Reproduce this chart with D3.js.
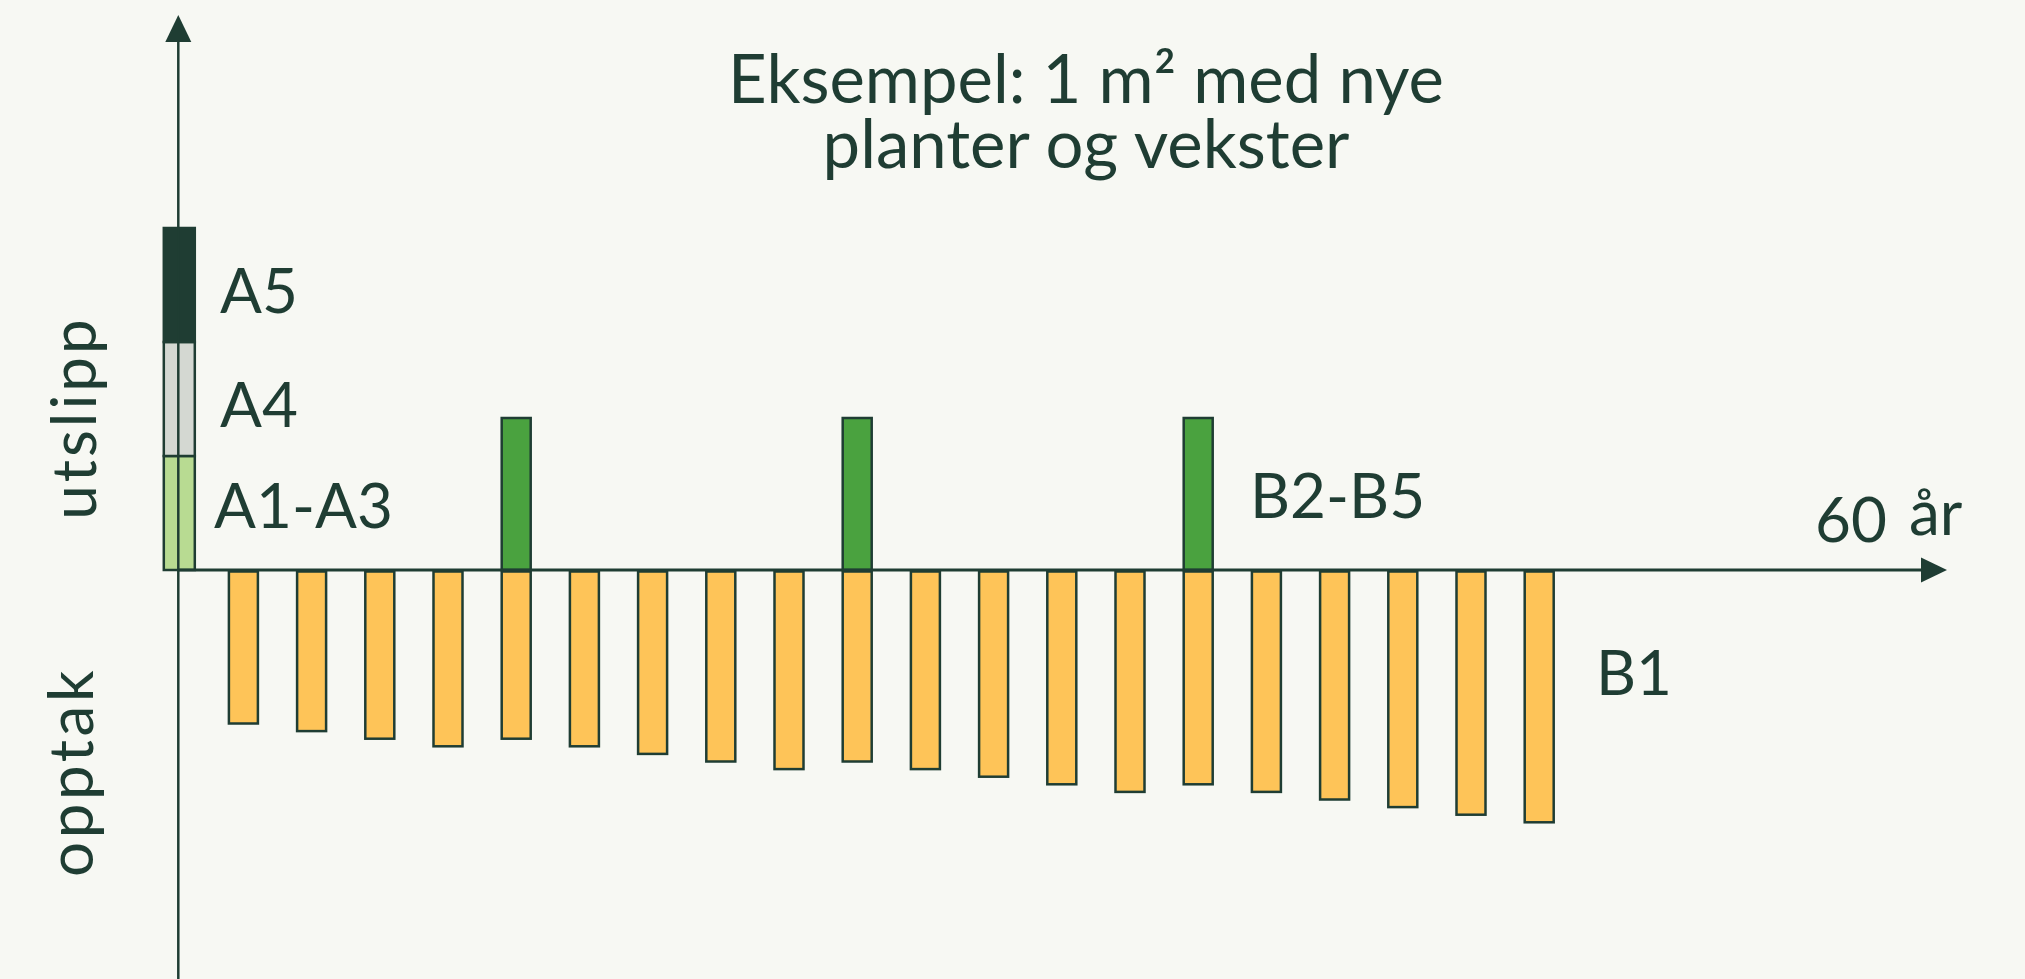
<!DOCTYPE html>
<html>
<head>
<meta charset="utf-8">
<script src="https://cdn.jsdelivr.net/npm/d3@7"></script>
<style>
  body { margin: 0; background: #f7f8f3; }
  svg { display: block; }
  text { font-family: Lato, "Noto Sans", sans-serif; fill: #1f3d33; }
</style>
</head>
<body>
<div id="chart"></div>
<script>
// the start bar at year 0, stacked
let startParts = ["A1-A3", "A4", "A5"];
let startValues = [15, 15, 15];
let startColors = ["#b8db92", "#d4d8d2", "#1f3d33"];

// 20 periods of 3 years, uptake is negative
let periods = d3.range(1, 21);
let uptake = [-20, -21, -22, -23, -22, -23, -24, -25, -26, -25,
              -26, -27, -28, -29, -28, -29, -30, -31, -32, -33];
// replacement of plants every 5 periods
let replacePeriods = [5, 10, 15];
let replaceValues = [20, 20, 20];

let titleLines = ["Eksempel: 1 m² med nye", "planter og vekster"];

let width = 2025, height = 979;
let ink = "#1f3d33";

let svg = d3.select("#chart").append("svg")
    .attr("width", width)
    .attr("height", height);

// scales
let xScale = d3.scaleLinear()
    .domain([1, 20])
    .range([243.4, 1539.2]);
let yScale = d3.scaleLinear()
    .domain([0, 45])
    .range([570, 228]);
let axisX = 178.3;
let barW = 29;
let gap = 1.5;

// stacked start bar
let stack = [];
let acc = 0;
for (let i = 0; i < startValues.length; i++) {
    stack.push({name: startParts[i], y0: acc, y1: acc + startValues[i], color: startColors[i]});
    acc += startValues[i];
}
svg.append("g").selectAll("rect")
    .data(stack)
    .enter()
    .append("rect")
    .attr("x", axisX + 1 - 15.5)
    .attr("y", d => yScale(d.y1))
    .attr("width", 31)
    .attr("height", d => yScale(d.y0) - yScale(d.y1))
    .style("fill", d => d.color)
    .style("stroke", ink)
    .style("stroke-width", 2.5);

// uptake bars
svg.append("g").selectAll("rect")
    .data(periods)
    .enter()
    .append("rect")
    .attr("x", d => xScale(d) - barW / 2)
    .attr("y", yScale(0) + gap)
    .attr("width", barW)
    .attr("height", (d, i) => yScale(uptake[i]) - yScale(0))
    .style("fill", "#fec458")
    .style("stroke", ink)
    .style("stroke-width", 2.5);

// replacement bars
svg.append("g").selectAll("rect")
    .data(replacePeriods)
    .enter()
    .append("rect")
    .attr("x", d => xScale(d) - barW / 2)
    .attr("y", (d, i) => yScale(replaceValues[i]))
    .attr("width", barW)
    .attr("height", (d, i) => yScale(0) - yScale(replaceValues[i]))
    .style("fill", "#4aa23f")
    .style("stroke", ink)
    .style("stroke-width", 2.5);

// axes with arrows
svg.append("line")
    .attr("x1", axisX).attr("x2", 1925)
    .attr("y1", yScale(0)).attr("y2", yScale(0))
    .style("stroke", ink).style("stroke-width", 2.8);
svg.append("path")
    .attr("d", "M1921," + (yScale(0) - 12.5) + "L1947," + yScale(0) + "L1921," + (yScale(0) + 12.5) + "Z")
    .style("fill", ink);
svg.append("line")
    .attr("x1", axisX).attr("x2", axisX)
    .attr("y1", 38).attr("y2", height)
    .style("stroke", ink).style("stroke-width", 2.5);
svg.append("path")
    .attr("d", "M" + (axisX - 13) + ",42L" + axisX + ",15L" + (axisX + 13) + ",42Z")
    .style("fill", ink);

// labels for the stack
let labelSize = 62;
let stackLabelX = [214, 220, 220];
let stackLabelY = [528, 427, 313];
svg.append("g").selectAll("text")
    .data(stack)
    .enter()
    .append("text")
    .attr("x", (d, i) => stackLabelX[i])
    .attr("y", (d, i) => stackLabelY[i])
    .style("font-size", labelSize + "px")
    .text(d => d.name);

svg.append("text")
    .attr("x", 1250).attr("y", 518)
    .style("font-size", labelSize + "px")
    .text("B2-B5");
svg.append("text")
    .attr("x", 1596).attr("y", 695)
    .style("font-size", labelSize + "px")
    .text("B1");
svg.append("text")
    .attr("x", 1815).attr("y", 541.5)
    .style("font-size", labelSize + "px")
    .text("60");
svg.append("text")
    .attr("x", 1909).attr("y", 535)
    .style("font-size", labelSize + "px")
    .text("år");

// vertical axis words
svg.append("text")
    .attr("transform", "translate(96,418) rotate(-90)")
    .attr("text-anchor", "middle")
    .style("font-size", labelSize + "px")
    .style("letter-spacing", "3px")
    .text("utslipp");
svg.append("text")
    .attr("transform", "translate(93,772) rotate(-90)")
    .attr("text-anchor", "middle")
    .style("font-size", labelSize + "px")
    .style("letter-spacing", "3.5px")
    .text("opptak");

// title, two lines in one text
svg.append("text")
    .attr("text-anchor", "middle")
    .style("font-size", "67px")
    .selectAll("tspan")
    .data(titleLines)
    .enter()
    .append("tspan")
    .attr("x", 1086)
    .attr("y", (d, i) => 103 + i * 65)
    .text(d => d);
</script>
</body>
</html>
